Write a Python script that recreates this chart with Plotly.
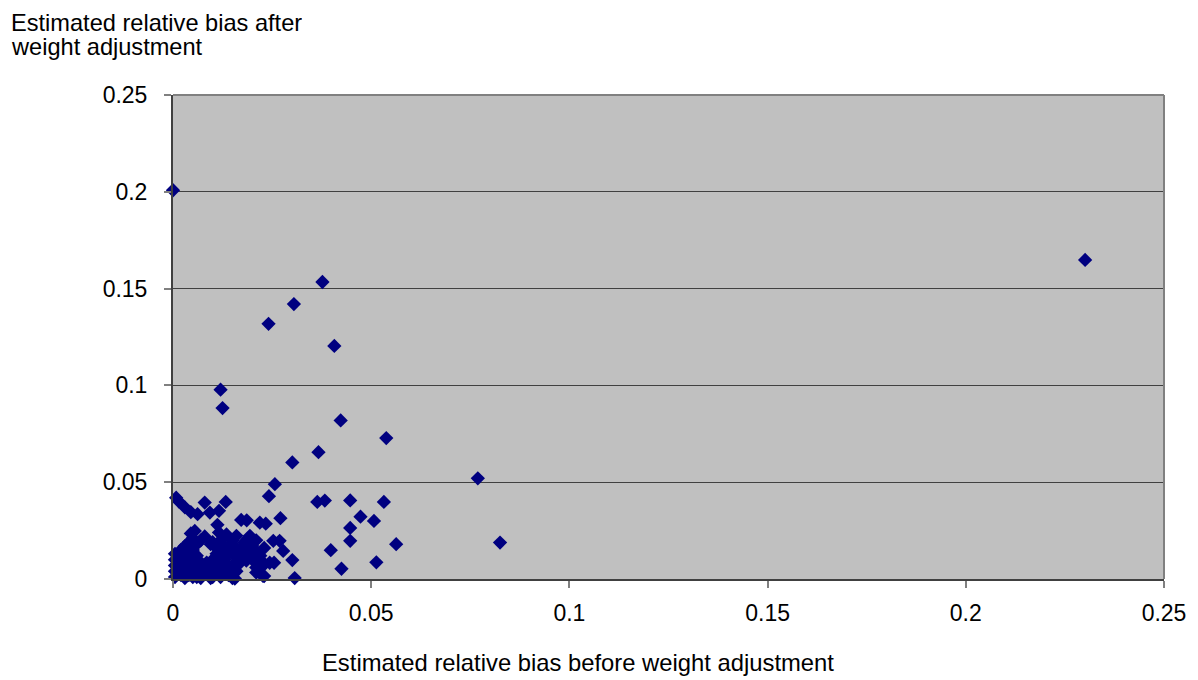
import plotly.graph_objects as go

# Isolated / spread-out points (before, after)
spread_x = [0.0, 0.2301, 0.0377, 0.0305, 0.0241, 0.0407, 0.0120, 0.0125, 0.0423, 0.0538,
            0.0367, 0.0301, 0.0769, 0.0825, 0.0364, 0.0383, 0.0447, 0.0532, 0.0473, 0.0507,
            0.0447, 0.0447, 0.0398, 0.0563, 0.0513, 0.0425]
spread_y = [0.2008, 0.1648, 0.1534, 0.1420, 0.1318, 0.1204, 0.0978, 0.0883, 0.0819, 0.0728,
            0.0655, 0.0602, 0.0520, 0.0188, 0.0398, 0.0405, 0.0406, 0.0398, 0.0322, 0.0300,
            0.0264, 0.0197, 0.0149, 0.0180, 0.0086, 0.0053]

# Points around the edge of the dense cluster
edge_x = [0.0008, 0.0015, 0.0030, 0.0045, 0.0062, 0.0080, 0.0093, 0.0116, 0.0133, 0.0112,
          0.0116, 0.0055, 0.0135, 0.0172, 0.0186, 0.0160, 0.0194, 0.0219, 0.0234, 0.0271,
          0.0242, 0.0257, 0.0253, 0.0269, 0.0278, 0.0301, 0.0307, 0.0210, 0.0227, 0.0244,
          0.0255, 0.0156]
edge_y = [0.0420, 0.0400, 0.0370, 0.0345, 0.0335, 0.0395, 0.0343, 0.0352, 0.0398, 0.0280,
          0.0240, 0.0248, 0.0230, 0.0305, 0.0303, 0.0223, 0.0223, 0.0291, 0.0286, 0.0314,
          0.0428, 0.0490, 0.0197, 0.0197, 0.0145, 0.0098, 0.0005, 0.0033, 0.0016, 0.0084,
          0.0084, 0.0002]

# Dense cluster near the origin
cluster_x = [0.0005, 0.0005, 0.0005, 0.0005, 0.0005,
             0.002, 0.002, 0.002, 0.002, 0.002,
             0.003, 0.003, 0.003, 0.003,
             0.004, 0.004, 0.004, 0.004,
             0.005, 0.005, 0.005, 0.005,
             0.006, 0.006, 0.006,
             0.007, 0.007, 0.007,
             0.008, 0.0085, 0.008,
             0.009, 0.0095,
             0.010, 0.010, 0.010,
             0.011, 0.011, 0.011,
             0.012, 0.012, 0.012,
             0.013, 0.013, 0.013,
             0.014, 0.014,
             0.015, 0.015, 0.015,
             0.016, 0.016, 0.016,
             0.017, 0.017,
             0.018, 0.018,
             0.019, 0.019,
             0.020, 0.020,
             0.021, 0.021, 0.021,
             0.022, 0.022,
             0.023, 0.023, 0.023,
             0.0015, 0.0015, 0.0035, 0.0035, 0.0045, 0.0055, 0.0065, 0.0105,
             0.0115, 0.0125, 0.0135, 0.0145, 0.0155, 0.0165, 0.0175, 0.0185,
             0.0195, 0.0205, 0.0095, 0.006, 0.0215, 0.0225, 0.0045, 0.0075]
cluster_y = [0.001, 0.004, 0.007, 0.010, 0.013,
             0.002, 0.006, 0.009, 0.012, 0.015,
             0.0005, 0.004, 0.011, 0.017,
             0.002, 0.007, 0.013, 0.019,
             0.001, 0.009, 0.015, 0.021,
             0.004, 0.012, 0.018,
             0.0005, 0.007, 0.020,
             0.003, 0.0085, 0.022,
             0.005, 0.018,
             0.001, 0.010, 0.019,
             0.004, 0.013, 0.016,
             0.007, 0.001, 0.020,
             0.010, 0.004, 0.017,
             0.002, 0.013,
             0.007, 0.020, 0.0005,
             0.004, 0.011, 0.016,
             0.009, 0.013,
             0.012, 0.019,
             0.015, 0.021,
             0.010, 0.017,
             0.006, 0.014, 0.020,
             0.012, 0.003,
             0.008, 0.016, 0.0015,
             0.0035, 0.0075, 0.0085, 0.0145, 0.0045, 0.0065, 0.0095, 0.0065,
             0.0095, 0.0135, 0.0075, 0.0175, 0.0135, 0.0075, 0.0165, 0.0095,
             0.0125, 0.0135, 0.0005, 0.001, 0.0095, 0.0065, 0.0235, 0.0035]

x_all = spread_x + edge_x + cluster_x
y_all = spread_y + edge_y + cluster_y

FONT = "Liberation Sans, Arial, sans-serif"
OFF = 8  # page body margin offset
W, H = 1198 - OFF, 680 - OFF
PL, PT = 173 - OFF, 95 - OFF
PR = W - (1167 - OFF)
PB = H - (579 - OFF)
ph = H - PT - PB
pw = W - PL - PR


def px_x(px):
    return (px - OFF - PL) / pw


def px_y(py):
    return (H - PB - (py - OFF)) / ph


fig = go.Figure()
fig.add_trace(go.Scatter(
    x=x_all, y=y_all, mode="markers",
    marker=dict(symbol="diamond", size=11, color="#000080", line=dict(width=0)),
    cliponaxis=False, showlegend=False, hoverinfo="x+y"))

fig.update_layout(
    width=W, height=H,
    margin=dict(l=PL, r=PR, t=PT, b=PB, pad=0),
    paper_bgcolor="white", plot_bgcolor="#C0C0C0",
    font=dict(family=FONT, size=23, color="black"),
    xaxis=dict(range=[0, 0.25], dtick=0.05, tick0=0, showgrid=False, zeroline=False,
               showline=True, linecolor="#404040", linewidth=2,
               ticks="outside", ticklen=7, tickcolor="#808080", tickwidth=1.5,
               ticklabelstandoff=5, tickfont=dict(size=23)),
    yaxis=dict(range=[0, 0.25], dtick=0.05, tick0=0, showgrid=True, gridcolor="#404040",
               gridwidth=1, zeroline=False,
               showline=True, linecolor="#404040", linewidth=2,
               ticks="outside", ticklen=7, tickcolor="#808080", tickwidth=1.5,
               ticklabelstandoff=12, tickfont=dict(size=23)),
    shapes=[
        dict(type="line", xref="paper", yref="paper", x0=0, x1=1, y0=1, y1=1,
             line=dict(color="#808080", width=2)),
        dict(type="line", xref="paper", yref="paper", x0=1, x1=1, y0=0, y1=1,
             line=dict(color="#808080", width=2)),
    ],
    annotations=[
        dict(text="Estimated relative bias after", xref="paper", yref="paper",
             x=px_x(10), y=px_y(23), xanchor="left", yanchor="middle",
             height=20, borderpad=0,
             showarrow=False, font=dict(size=23.6)),
        dict(text="weight adjustment", xref="paper", yref="paper",
             x=px_x(10), y=px_y(47), xanchor="left", yanchor="middle",
             borderpad=0,
             showarrow=False, font=dict(size=23.6)),
        dict(text="Estimated relative bias before weight adjustment", xref="paper", yref="paper",
             x=px_x(579), y=px_y(662), xanchor="center", yanchor="middle",
             showarrow=False, font=dict(size=23.8)),
    ],
)

fig.write_html("out.html")
